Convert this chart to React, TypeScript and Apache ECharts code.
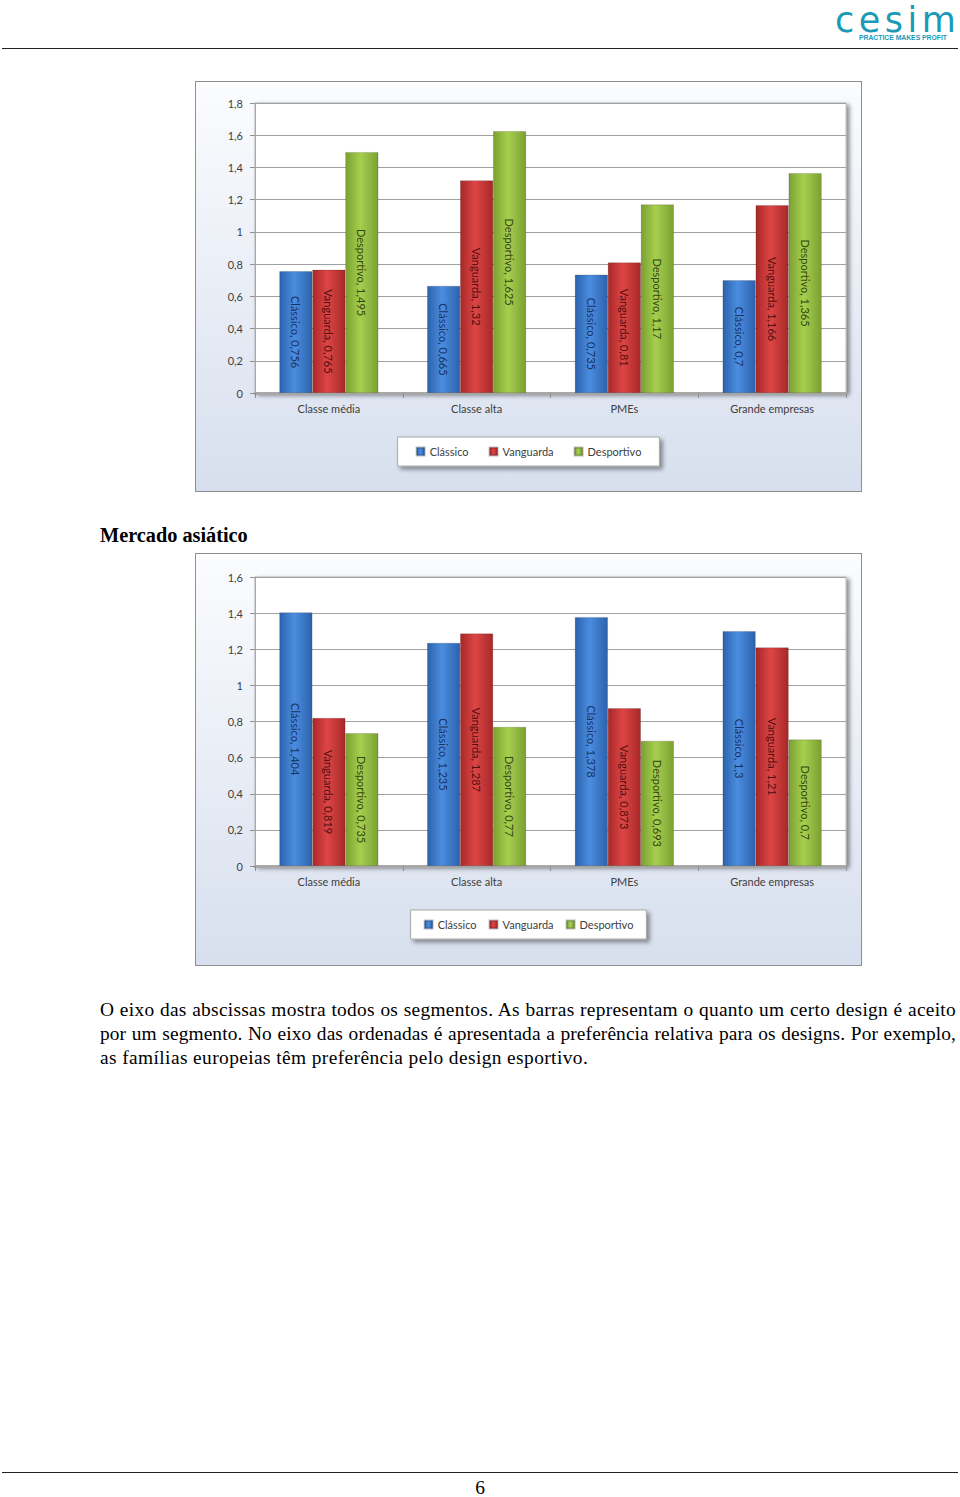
import React, { useEffect, useRef } from "react";
import * as echarts from "echarts";

const categories = ["Classe média", "Classe alta", "PMEs", "Grande empresas"];
const seriesNames = ["Clássico", "Vanguarda", "Desportivo"];

// Chart 1 (top)
const topClassico = [0.756, 0.665, 0.735, 0.7];
const topVanguarda = [0.765, 1.32, 0.81, 1.166];
const topDesportivo = [1.495, 1.625, 1.17, 1.365];
const topMax = 1.8;

// Chart 2: Mercado asiático
const asiaClassico = [1.404, 1.235, 1.378, 1.3];
const asiaVanguarda = [0.819, 1.287, 0.873, 1.21];
const asiaDesportivo = [0.735, 0.77, 0.693, 0.7];
const asiaMax = 1.6;

const yInterval = 0.2;

const paragraphLines = [
  "O eixo das abscissas mostra todos os segmentos. As barras representam o quanto um certo design é aceito",
  "por um segmento. No eixo das ordenadas é apresentada a preferência relativa para os designs. Por exemplo,",
  "as famílias europeias têm preferência pelo design esportivo.",
];
const lineSpacing = [0.28, 0.1, 0.4];

const palette = [
  { edge: "#2c62ad", mid: "#4b8de0", solid: "#3f7ccc", label: "#17315e" },
  { edge: "#a82828", mid: "#de4545", solid: "#cc3a3a", label: "#4f1010" },
  { edge: "#7ba032", mid: "#a6cf4e", solid: "#94bf42", label: "#34450f" },
];

const fmt = (v: number) => String(Number(v.toFixed(3))).replace(".", ",");

function buildOption(values: number[][], max: number, grid: any, legend: any) {
  return {
    animation: false,
    backgroundColor: new echarts.graphic.LinearGradient(0, 0, 0, 1, [
      { offset: 0, color: "#fbfcfe" },
      { offset: 1, color: "#d7dfee" },
    ]),
    textStyle: { fontFamily: "Lato, 'Open Sans', sans-serif" },
    grid: {
      show: true,
      backgroundColor: "#ffffff",
      borderColor: "#b8b8b8",
      borderWidth: 1,
      shadowColor: "rgba(0,0,0,0.45)",
      shadowBlur: 4,
      shadowOffsetX: 3,
      shadowOffsetY: 2,
      ...grid,
    },
    legend: {
      data: seriesNames,
      left: "center",
      orient: "horizontal",
      icon: "rect",
      itemWidth: 8,
      itemHeight: 8,
      backgroundColor: "#ffffff",
      borderColor: "#a8a8a8",
      borderWidth: 1,
      shadowColor: "rgba(0,0,0,0.4)",
      shadowBlur: 4,
      shadowOffsetX: 3,
      shadowOffsetY: 3,
      textStyle: { fontSize: 11, color: "#404040", fontFamily: "Lato, sans-serif" },
      ...legend,
    },
    xAxis: {
      type: "category",
      data: categories,
      boundaryGap: true,
      axisLine: { lineStyle: { color: "#a8a8a8", width: 3 } },
      axisTick: { show: true, length: 5, lineStyle: { color: "#909090" } },
      axisLabel: { fontSize: 11, color: "#404040", margin: 10, fontFamily: "Lato, sans-serif" },
    },
    yAxis: {
      type: "value",
      min: 0,
      max,
      interval: yInterval,
      axisLine: { show: true, lineStyle: { color: "#a8a8a8" } },
      axisTick: { show: true, length: 5, lineStyle: { color: "#909090" } },
      axisLabel: {
        fontSize: 11,
        color: "#404040",
        margin: 12,
        fontFamily: "Lato, sans-serif",
        formatter: (v: number) => fmt(v),
      },
      splitLine: { lineStyle: { color: "#a0a0a0", width: 1 } },
    },
    series: seriesNames.map((name, i) => ({
      name,
      type: "bar",
      data: values[i],
      barGap: "0%",
      barCategoryGap: "33%",
      color: palette[i].solid,
      itemStyle: {
        color: new echarts.graphic.LinearGradient(0, 0, 1, 0, [
          { offset: 0, color: palette[i].edge },
          { offset: 0.45, color: palette[i].mid },
          { offset: 1, color: palette[i].edge },
        ]),
        borderColor: "rgba(0,0,0,0.25)",
        borderWidth: 0.6,
      },
      label: {
        show: true,
        position: "inside",
        rotate: -90,
        align: "center",
        verticalAlign: "middle",
        fontSize: 11,
        color: palette[i].label,
        fontFamily: "Lato, sans-serif",
        formatter: (p: any) => `${p.seriesName}, ${fmt(p.value)}`,
      },
    })),
  };
}

function Chart({ option, style }: { option: any; style: React.CSSProperties }) {
  const ref = useRef<HTMLDivElement>(null);
  useEffect(() => {
    if (!ref.current) return;
    const chart = echarts.init(ref.current, undefined, { renderer: "svg" });
    chart.setOption(option);
    return () => chart.dispose();
  }, []);
  return <div ref={ref} style={style} />;
}

const serif = "'Liberation Serif', 'Times New Roman', serif";

export default function App() {
  const opt1 = buildOption(
    [topClassico, topVanguarda, topDesportivo],
    topMax,
    { left: 59, right: 15, top: 21, bottom: 98 },
    { top: 355, padding: [9, 18], itemGap: 20 }
  );
  const opt2 = buildOption(
    [asiaClassico, asiaVanguarda, asiaDesportivo],
    asiaMax,
    { left: 59, right: 15, top: 23, bottom: 99 },
    { top: 356, padding: [9, 13], itemGap: 12 }
  );
  const frame: React.CSSProperties = {
    position: "absolute",
    left: 195,
    width: 665,
    height: 409,
    border: "1px solid #8e8e8e",
  };
  return (
    <div style={{ position: "absolute", left: 0, top: 0, width: 960, height: 1497, background: "#fff", overflow: "hidden" }}>
      {/* header logo */}
      <div
        style={{
          position: "absolute",
          left: 835,
          top: 0,
          fontFamily: "'DejaVu Sans', sans-serif",
          fontSize: 35,
          color: "#1a9ab6",
          whiteSpace: "nowrap",
        }}
      >
        <span style={{ letterSpacing: 4.5 }}>cesi</span>m
      </div>
      <div
        style={{
          position: "absolute",
          left: 859,
          top: 35,
          width: 100,
          fontFamily: "'Liberation Sans', Arial, sans-serif",
          fontWeight: "bold",
          fontSize: 6.8,
          color: "#1a9ab6",
          whiteSpace: "nowrap",
          lineHeight: "6px",
        }}
      >
        PRACTICE MAKES PROFIT
      </div>
      <div style={{ position: "absolute", left: 2, top: 48, width: 956, height: 0, borderTop: "1.5px solid #222" }} />

      <Chart option={opt1} style={{ ...frame, top: 81 }} />

      <div
        style={{
          position: "absolute",
          left: 100,
          top: 523,
          fontFamily: serif,
          fontWeight: "bold",
          fontSize: 20.3,
          lineHeight: "24px",
          color: "#000",
        }}
      >
        Mercado asiático
      </div>

      <Chart option={opt2} style={{ ...frame, top: 553, height: 411 }} />

      <div
        style={{
          position: "absolute",
          left: 100,
          top: 998,
          width: 856,
          fontFamily: serif,
          fontSize: 19.4,
          lineHeight: "24px",
          color: "#000",
        }}
      >
        {paragraphLines.map((l, i) => (
          <div
            key={i}
            style={{
              letterSpacing: lineSpacing[i],
              textAlign: i < paragraphLines.length - 1 ? "justify" : "left",
              textAlignLast: i < paragraphLines.length - 1 ? "justify" : "left",
              whiteSpace: "nowrap",
            }}
          >
            {l}
          </div>
        ))}
      </div>

      <div style={{ position: "absolute", left: 2, top: 1472, width: 956, height: 0, borderTop: "1.5px solid #222" }} />
      <div
        style={{
          position: "absolute",
          left: 0,
          top: 1476,
          width: 960,
          textAlign: "center",
          fontFamily: serif,
          fontSize: 19.4,
          lineHeight: "24px",
          color: "#000",
        }}
      >
        6
      </div>
    </div>
  );
}
